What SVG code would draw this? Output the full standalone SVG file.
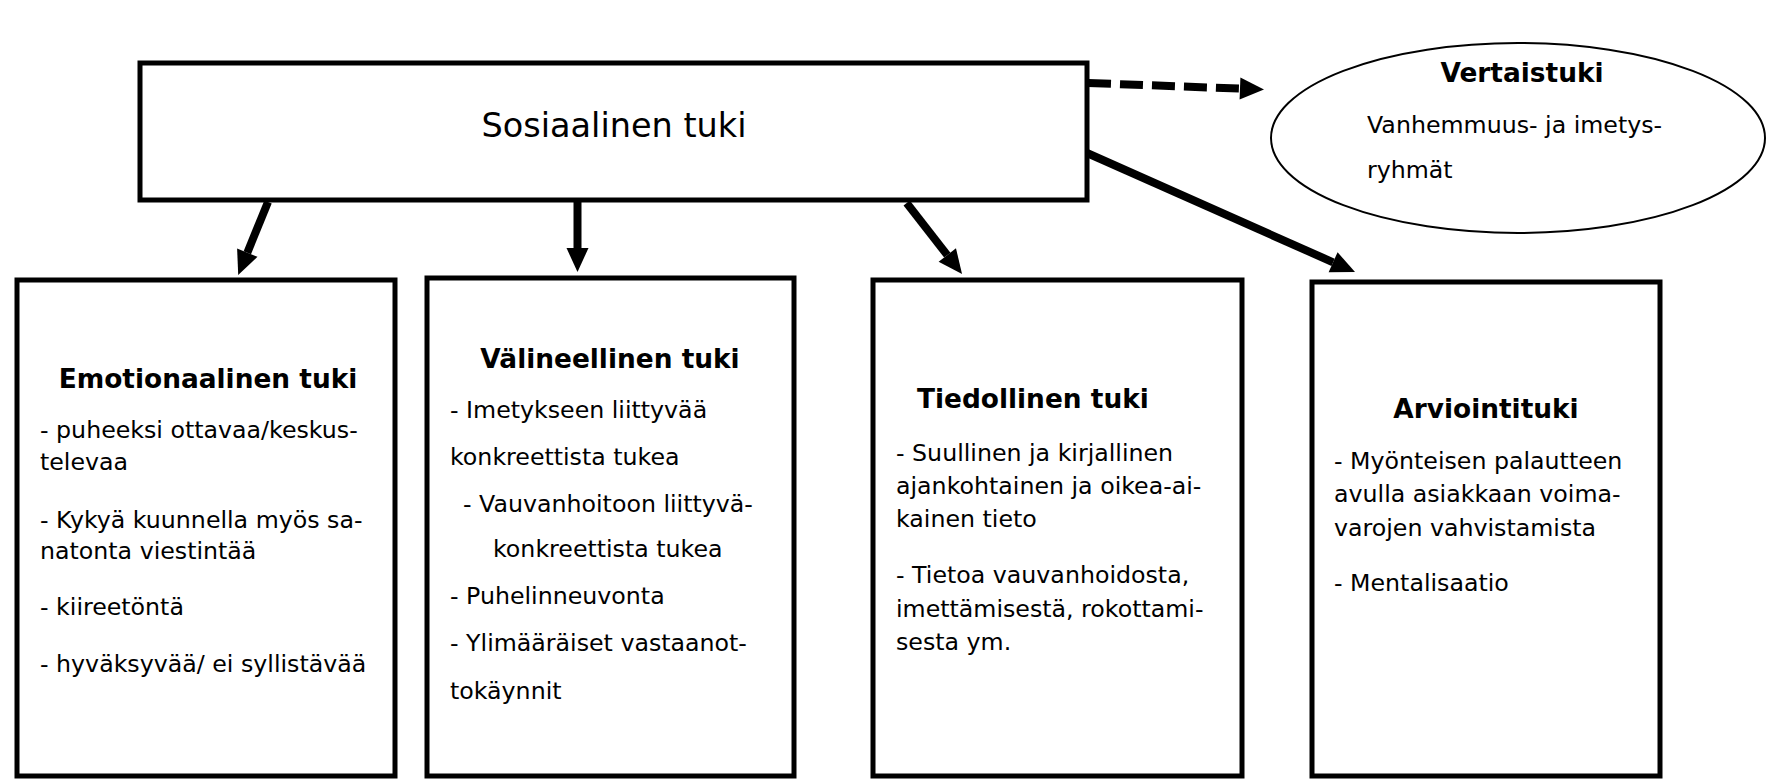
<svg xmlns="http://www.w3.org/2000/svg" width="1767" height="779" viewBox="0 0 1767 779">
<defs>
<style>
.box{fill:#fff;stroke:#000;stroke-width:5}
.ell{fill:#fff;stroke:#000;stroke-width:2}
.main{font-family:"DejaVu Sans",sans-serif;font-size:33.5px;fill:#000}
.h{font-family:"DejaVu Sans",sans-serif;font-size:26.4px;font-weight:bold;fill:#000}
.b{font-family:"DejaVu Sans",sans-serif;font-size:23.7px;fill:#000}
.c{text-anchor:middle}
.arr{stroke:#000;stroke-width:8;fill:none;marker-end:url(#head)}
.dash{stroke-dasharray:23 9}
</style>
<marker id="head" markerUnits="userSpaceOnUse" markerWidth="24" markerHeight="22" refX="0" refY="11" orient="auto" overflow="visible">
<path d="M0,0 L24,11 L0,22 Z" fill="#000"/>
</marker>
</defs>
<rect width="1767" height="779" fill="#fff"/>

<g id="sosiaalinen">
<rect class="box" x="140" y="63" width="947" height="137"/>
<text class="main c" x="614" y="137">Sosiaalinen tuki</text>
</g>

<g id="vertaistuki">
<ellipse class="ell" cx="1518" cy="138" rx="247" ry="95"/>
<text class="h c" x="1522" y="82">Vertaistuki</text>
<text class="b" x="1367" y="133">Vanhemmuus- ja imetys-</text>
<text class="b" x="1367" y="178">ryhmät</text>
</g>

<g id="emotionaalinen">
<rect class="box" x="17" y="280" width="378" height="496"/>
<text class="h c" x="208" y="387.5">Emotionaalinen tuki</text>
<text class="b" x="40" y="438">- puheeksi ottavaa/keskus-</text>
<text class="b" x="40" y="470">televaa</text>
<text class="b" x="40" y="528">- Kykyä kuunnella myös sa-</text>
<text class="b" x="40" y="559">natonta viestintää</text>
<text class="b" x="40" y="615">- kiireetöntä</text>
<text class="b" x="40" y="672">- hyväksyvää/ ei syllistävää</text>
</g>

<g id="valineellinen">
<rect class="box" x="427" y="278" width="367" height="498"/>
<text class="h c" x="610" y="368">Välineellinen tuki</text>
<text class="b" x="450" y="418">- Imetykseen liittyvää</text>
<text class="b" x="450" y="465">konkreettista tukea</text>
<text class="b" x="463" y="512">- Vauvanhoitoon liittyvä-</text>
<text class="b" x="493" y="557">konkreettista tukea</text>
<text class="b" x="450" y="604">- Puhelinneuvonta</text>
<text class="b" x="450" y="651">- Ylimääräiset vastaanot-</text>
<text class="b" x="450" y="699">tokäynnit</text>
</g>

<g id="tiedollinen">
<rect class="box" x="873" y="280" width="369" height="496"/>
<text class="h" x="917" y="408">Tiedollinen tuki</text>
<text class="b" x="896" y="461">- Suullinen ja kirjallinen</text>
<text class="b" x="896" y="494">ajankohtainen ja oikea-ai-</text>
<text class="b" x="896" y="527">kainen tieto</text>
<text class="b" x="896" y="583">- Tietoa vauvanhoidosta,</text>
<text class="b" x="896" y="617">imettämisestä, rokottami-</text>
<text class="b" x="896" y="650">sesta ym.</text>
</g>

<g id="arviointituki">
<rect class="box" x="1312" y="282" width="348" height="494"/>
<text class="h c" x="1486" y="418">Arviointituki</text>
<text class="b" x="1334" y="469">- Myönteisen palautteen</text>
<text class="b" x="1334" y="502">avulla asiakkaan voima-</text>
<text class="b" x="1334" y="536">varojen vahvistamista</text>
<text class="b" x="1334" y="591">- Mentalisaatio</text>
</g>

<g id="connectors">
<line class="arr" x1="268" y1="202" x2="247.3" y2="252.7"/>
<line class="arr" x1="577.5" y1="202" x2="577.5" y2="248"/>
<line class="arr" x1="906.7" y1="203" x2="947.3" y2="255.1"/>
<line class="arr" x1="1087" y1="153" x2="1333.1" y2="262.3"/>
<line class="arr dash" x1="1088" y1="83" x2="1240" y2="88.6"/>
</g>
</svg>
